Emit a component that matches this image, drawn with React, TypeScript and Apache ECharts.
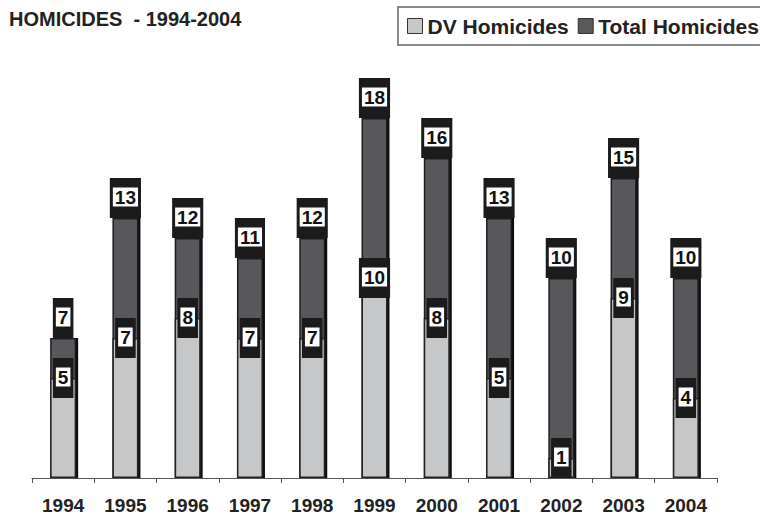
import React, { useEffect, useRef } from "react";
import * as echarts from "echarts";

const years = ["1994", "1995", "1996", "1997", "1998", "1999", "2000", "2001", "2002", "2003", "2004"];
const dvHomicides = [5, 7, 8, 7, 7, 10, 8, 5, 1, 9, 4];
const totalHomicides = [7, 13, 12, 11, 12, 18, 16, 13, 10, 15, 10];
const titleText = "HOMICIDES  - 1994-2004";

const FONT = "Liberation Sans, Arial, sans-serif";

const labelStyle = (offsetY: number) => ({
  show: true,
  position: "top" as const,
  distance: 0,
  offset: [0, offsetY],
  formatter: (p: any) => `{w|${p.value}}`,
  backgroundColor: "#1b1b1b",
  padding: [7, 3, 9, 3],
  rich: {
    w: {
      backgroundColor: "#ffffff",
      color: "#111111",
      fontFamily: FONT,
      fontWeight: "bold",
      fontSize: 19,
      lineHeight: 24,
      padding: [0, 2],
    },
  },
});

export default function App() {
  const ref = useRef<HTMLDivElement>(null);
  useEffect(() => {
    if (!ref.current) return;
    const chart = echarts.init(ref.current, undefined, { renderer: "svg" });
    chart.setOption({
      animation: false,
      backgroundColor: "#ffffff",
      title: {
        text: titleText,
        left: 9,
        top: 9,
        padding: 0,
        textStyle: { fontFamily: FONT, fontWeight: "bold", fontSize: 20, color: "#222222" },
      },
      legend: {
        data: ["DV Homicides", "Total Homicides"],
        orient: "horizontal",
        left: 398,
        top: 7,
        width: 600,
        padding: [8, 9],
        icon: "rect",
        itemWidth: 15,
        itemHeight: 15,
        itemGap: 9,
        borderColor: "#666666",
        borderWidth: 1.5,
        backgroundColor: "#ffffff",
        itemStyle: { borderColor: "#333333", borderWidth: 1 },
        textStyle: { fontFamily: FONT, fontWeight: "bold", fontSize: 21, color: "#222222", lineHeight: 22 },
      },
      grid: { left: 32, right: 43, top: 78, bottom: 43 },
      xAxis: {
        type: "category",
        data: years,
        offset: 7,
        axisLine: { lineStyle: { color: "#555555", width: 1 } },
        axisTick: { show: true, length: 5, lineStyle: { color: "#555555" } },
        axisLabel: { fontFamily: FONT, fontWeight: "bold", fontSize: 19, color: "#222222", margin: 11 },
      },
      yAxis: { type: "value", min: 0, max: 20, show: false, splitLine: { show: false } },
      series: [
        {
          name: "DV Homicides",
          type: "bar",
          data: dvHomicides,
          barWidth: 26,
          barGap: "-100%",
          z: 3,
          itemStyle: { color: "#c6c7c9", borderColor: "#232323", borderWidth: 1.5 },
          label: labelStyle(20),
        },
        {
          name: "Total Homicides",
          type: "bar",
          data: totalHomicides,
          barWidth: 26,
          barGap: "-100%",
          z: 2,
          itemStyle: {
            color: "#58595b",
            borderColor: "#1e1e1e",
            borderWidth: 1.5,
            shadowColor: "#111111",
            shadowOffsetX: 2,
            shadowBlur: 0,
          },
          label: labelStyle(0),
        },
      ],
    });
    return () => chart.dispose();
  }, []);
  return (
    <div
      ref={ref}
      style={{ position: "absolute", left: 0, top: 0, width: 760, height: 521 }}
    />
  );
}
